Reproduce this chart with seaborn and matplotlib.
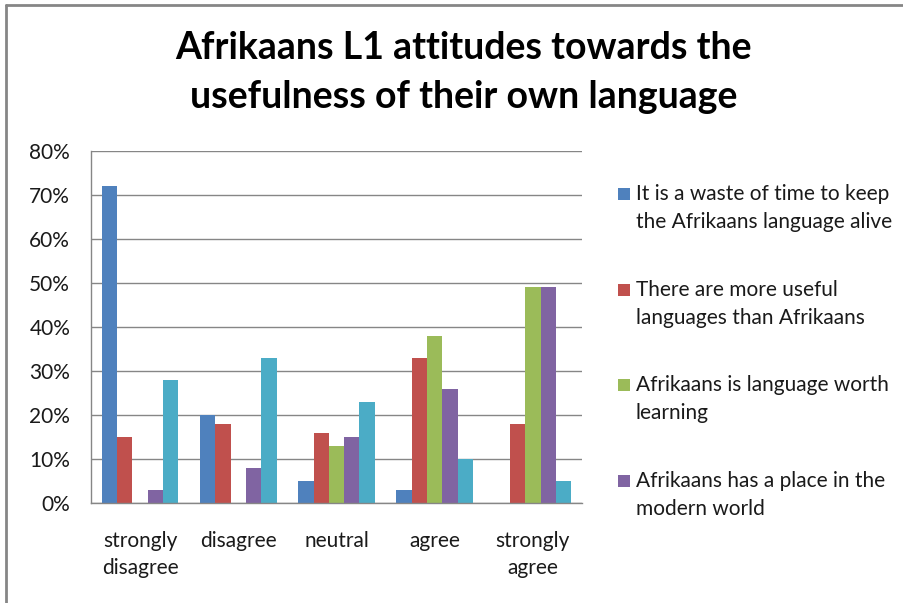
import numpy as np
import pandas as pd
import matplotlib
matplotlib.use("Agg")
import matplotlib.pyplot as plt
from matplotlib.patches import Rectangle
from matplotlib.lines import Line2D
import seaborn as sns

categories = ["strongly\ndisagree", "disagree", "neutral", "agree", "strongly\nagree"]
series_names = [
    "It is a waste of time to keep\nthe Afrikaans language alive",
    "There are more useful\nlanguages than Afrikaans",
    "Afrikaans is language worth\nlearning",
    "Afrikaans has a place in the\nmodern world",
    "Afrikaans will survive",
]
waste_of_time = [72, 20, 5, 3, 0]
more_useful = [15, 18, 16, 33, 18]
worth_learning = [0, 0, 13, 38, 49]
place_in_world = [3, 8, 15, 26, 49]
will_survive = [28, 33, 23, 10, 5]
colors = ["#4F81BD", "#C0504D", "#9BBB59", "#8064A2", "#4BACC6"]
yticks = [0, 10, 20, 30, 40, 50, 60, 70, 80]

values = [waste_of_time, more_useful, worth_learning, place_in_world, will_survive]
rows = []
for name, vals in zip(series_names, values):
    for cat, v in zip(categories, vals):
        rows.append({"category": cat, "series": name, "value": v})
df = pd.DataFrame(rows)

sns.set_theme(style="white")
plt.rcParams["font.family"] = ["Lato", "DejaVu Sans"]

fig = plt.figure(figsize=(9.04, 6.03), dpi=100)
ax = fig.add_axes([91 / 904, 1 - 503 / 603, (582 - 91) / 904, (503 - 151) / 603])

sns.barplot(data=df, x="category", y="value", hue="series", order=categories,
            hue_order=series_names, palette=colors, width=0.78, ax=ax,
            legend=False, saturation=1, linewidth=0)

ax.set_ylim(0, 80)
ax.set_xlim(-0.5, len(categories) - 0.5)
ax.set_yticks(yticks)
ax.set_yticklabels([f"{t}%" for t in yticks], fontsize=15, color="#1a1a1a")
ax.set_xticks(range(len(categories)))
ax.set_xticklabels(categories, fontsize=15, color="#1a1a1a", linespacing=1.45)
ax.set_xticks(np.arange(-0.5, len(categories)), minor=True)
ax.tick_params(axis="x", which="major", length=0, pad=20)
ax.tick_params(axis="x", which="minor", length=5, width=1, color="#868686", direction="out")
ax.tick_params(axis="y", which="major", length=5, width=1, color="#868686", direction="out", pad=10)
ax.set_xlabel("")
ax.set_ylabel("")

ax.yaxis.grid(True, color="#868686", linewidth=1)
ax.set_axisbelow(True)
for side in ["top", "right"]:
    ax.spines[side].set_visible(False)
for side in ["left", "bottom"]:
    ax.spines[side].set_color("#868686")
    ax.spines[side].set_linewidth(1)

fig.text(0.513, 1 - 48 / 603, "Afrikaans L1 attitudes towards the", ha="center", va="center",
         fontsize=27, fontweight="bold", color="black")
fig.text(0.513, 1 - 97 / 603, "usefulness of their own language", ha="center", va="center",
         fontsize=27, fontweight="bold", color="black")

# legend for the first four series
legend_y = [194, 290, 385, 481]
for name, col, y in zip(series_names[:4], colors[:4], legend_y):
    fig.patches.append(Rectangle((618 / 904, 1 - (y + 6) / 603), 12 / 904, 12 / 603,
                                 transform=fig.transFigure, facecolor=col, edgecolor="none"))
    fig.text(636 / 904, 1 - (y + 14) / 603, name, ha="left", va="center", fontsize=15,
             color="#1a1a1a", linespacing=1.5)

# chart frame
fig.add_artist(Line2D([6 / 904, 1], [1 - 5 / 603, 1 - 5 / 603], transform=fig.transFigure,
                      color="#868686", linewidth=2))
fig.add_artist(Line2D([6 / 904, 6 / 904], [0, 1 - 5 / 603], transform=fig.transFigure,
                      color="#868686", linewidth=2))

fig.savefig("out.png", dpi=100)
